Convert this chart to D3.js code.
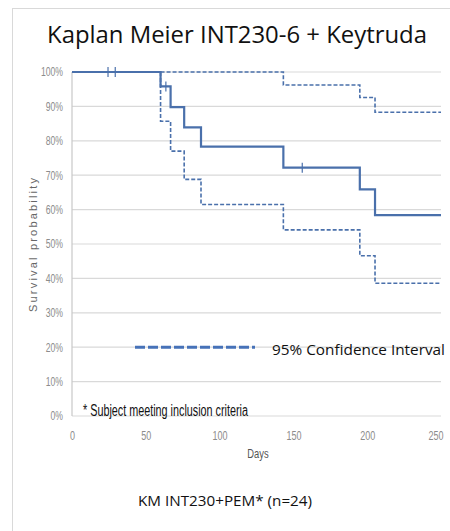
<!DOCTYPE html>
<html>
<head>
<meta charset="utf-8">
<script src="https://cdn.jsdelivr.net/npm/d3@7"></script>
<style>
  body { margin: 0; background: #fff; }
  svg { display: block; }
</style>
</head>
<body>
<svg id="drawing_region"></svg>
<script>
// Kaplan-Meier estimate
const kmDays = [0, 60, 66.8, 76, 87.4, 143.2, 195, 205.3, 250];
const kmSurv = [1, 0.958, 0.898, 0.839, 0.783, 0.722, 0.659, 0.584, 0.584];
// 95% confidence interval, upper and lower bound
const upperDays = [60, 143.2, 195, 205.3, 250];
const upperSurv = [1, 0.962, 0.926, 0.883, 0.883];
const lowerDays = [60, 60, 66.8, 76, 87.4, 143.2, 195, 205.3, 250];
const lowerSurv = [1, 0.857, 0.770, 0.688, 0.615, 0.541, 0.466, 0.386, 0.386];
// censored subjects
const censorDays = [24.4, 29.3, 63.6, 156];
const censorSurv = [1, 1, 0.958, 0.722];

const xTicks = [0, 50, 100, 150, 200, 250];
const yTicks = [0, 0.1, 0.2, 0.3, 0.4, 0.5, 0.6, 0.7, 0.8, 0.9, 1];

const config = {
    width: 450,
    height: 531,
    margin: {top: 72, right: 9, bottom: 115, left: 72}
};

const svg = d3.select('#drawing_region')
    .attr('width', config.width)
    .attr('height', config.height);

const blue = '#4a70ab';
const innerW = config.width - config.margin.left - config.margin.right;
const innerH = config.height - config.margin.top - config.margin.bottom;

// squeeze text horizontally, the source uses a narrow font
function condense(sel, factor) {
    sel.each(function() {
        const w = this.getComputedTextLength();
        d3.select(this)
            .attr('textLength', w * factor)
            .attr('lengthAdjust', 'spacingAndGlyphs');
    });
}

// outer chart frame
svg.append('rect')
    .attr('x', 12.5).attr('y', 8.5)
    .attr('width', 460).attr('height', 540)
    .attr('fill', 'none')
    .attr('stroke', '#d9d9d9');

svg.append('text')
    .attr('x', 237).attr('y', 43)
    .attr('text-anchor', 'middle')
    .attr('font-family', 'Open Sans, sans-serif')
    .attr('font-size', 24)
    .attr('textLength', 380)
    .attr('lengthAdjust', 'spacingAndGlyphs')
    .attr('fill', '#111')
    .text('Kaplan Meier INT230-6 + Keytruda');

const chart = svg.append('g')
    .attr('transform', `translate(${config.margin.left}, ${config.margin.top})`);

const x = d3.scaleLinear().domain([0, 250]).range([0, innerW]);
const y = d3.scaleLinear().domain([0, 1]).range([innerH, 0]);

// gridlines
chart.selectAll('line.grid')
    .data(yTicks)
    .enter()
    .append('line')
    .attr('class', 'grid')
    .attr('x1', 0).attr('x2', innerW)
    .attr('y1', d => y(d)).attr('y2', d => y(d))
    .attr('stroke', '#d9d9d9')
    .attr('stroke-width', 1.2);

chart.append('line')
    .attr('x1', 0).attr('x2', 0)
    .attr('y1', 0).attr('y2', innerH)
    .attr('stroke', '#c8c8c8')
    .attr('stroke-width', 1.2);

// axes
const yAxis = d3.axisLeft(y).tickValues(yTicks).tickSize(0).tickPadding(9)
    .tickFormat(d3.format('.0%'));
const xAxis = d3.axisBottom(x).tickValues(xTicks).tickSize(0).tickPadding(15);

chart.append('g').call(yAxis)
    .call(g => g.select('.domain').remove())
    .selectAll('text')
    .attr('font-family', 'Liberation Sans, sans-serif')
    .attr('font-size', 12)
    .attr('fill', '#8c8c8c')
    .call(condense, 0.72);

chart.append('g')
    .attr('transform', `translate(0, ${innerH})`)
    .call(xAxis)
    .call(g => g.select('.domain').remove())
    .selectAll('text')
    .attr('font-family', 'Liberation Sans, sans-serif')
    .attr('font-size', 12.5)
    .attr('fill', '#8c8c8c')
    .attr('text-anchor', d => d === 250 ? 'end' : 'middle')
    .attr('dx', d => d === 250 ? 2 : 0)
    .call(condense, 0.72);

// curves
const line = d3.line()
    .x(d => x(d[0]))
    .y(d => y(d[1]))
    .curve(d3.curveStepAfter);

chart.append('path')
    .datum(upperDays.map((d, i) => [d, upperSurv[i]]))
    .attr('d', line)
    .attr('fill', 'none')
    .attr('stroke', blue)
    .attr('stroke-width', 1.6)
    .attr('stroke-dasharray', '4,2');

chart.append('path')
    .datum(lowerDays.map((d, i) => [d, lowerSurv[i]]))
    .attr('d', line)
    .attr('fill', 'none')
    .attr('stroke', blue)
    .attr('stroke-width', 1.6)
    .attr('stroke-dasharray', '4,2');

chart.append('path')
    .datum(kmDays.map((d, i) => [d, kmSurv[i]]))
    .attr('d', line)
    .attr('fill', 'none')
    .attr('stroke', blue)
    .attr('stroke-width', 2.2);

chart.selectAll('line.censor')
    .data(censorDays.map((d, i) => [d, censorSurv[i]]))
    .enter()
    .append('line')
    .attr('class', 'censor')
    .attr('x1', d => x(d[0])).attr('x2', d => x(d[0]))
    .attr('y1', d => y(d[1]) - 5).attr('y2', d => y(d[1]) + 5)
    .attr('stroke', blue)
    .attr('stroke-width', 1.2);

// legend
chart.append('line')
    .attr('x1', 63).attr('x2', 183)
    .attr('y1', y(0.2)).attr('y2', y(0.2))
    .attr('stroke', '#4672b8')
    .attr('stroke-width', 3)
    .attr('stroke-dasharray', '10,3');

svg.append('text')
    .attr('x', 272).attr('y', 355)
    .attr('font-family', 'Open Sans, sans-serif')
    .attr('font-size', 15)
    .attr('textLength', 173)
    .attr('lengthAdjust', 'spacingAndGlyphs')
    .attr('fill', '#111')
    .text('95% Confidence Interval');

svg.append('text')
    .attr('x', 83).attr('y', 416)
    .attr('font-family', 'Liberation Sans, sans-serif')
    .attr('font-size', 16)
    .attr('textLength', 165)
    .attr('lengthAdjust', 'spacingAndGlyphs')
    .attr('fill', '#111')
    .text('* Subject meeting inclusion criteria');

// axis titles
svg.append('text')
    .attr('x', 258).attr('y', 458)
    .attr('text-anchor', 'middle')
    .attr('font-family', 'Liberation Sans, sans-serif')
    .attr('font-size', 13)
    .attr('fill', '#555')
    .text('Days')
    .call(condense, 0.72);

svg.append('text')
    .attr('transform', 'translate(37, 245) rotate(-90)')
    .attr('text-anchor', 'middle')
    .attr('font-family', 'Liberation Sans, sans-serif')
    .attr('font-size', 11)
    .attr('textLength', 134)
    .attr('fill', '#666')
    .text('Survival probability');

svg.append('text')
    .attr('x', 138).attr('y', 506)
    .attr('font-family', 'Open Sans, sans-serif')
    .attr('font-size', 15)
    .attr('textLength', 174)
    .attr('lengthAdjust', 'spacingAndGlyphs')
    .attr('fill', '#111')
    .text('KM INT230+PEM*  (n=24)');
</script>
</body>
</html>
